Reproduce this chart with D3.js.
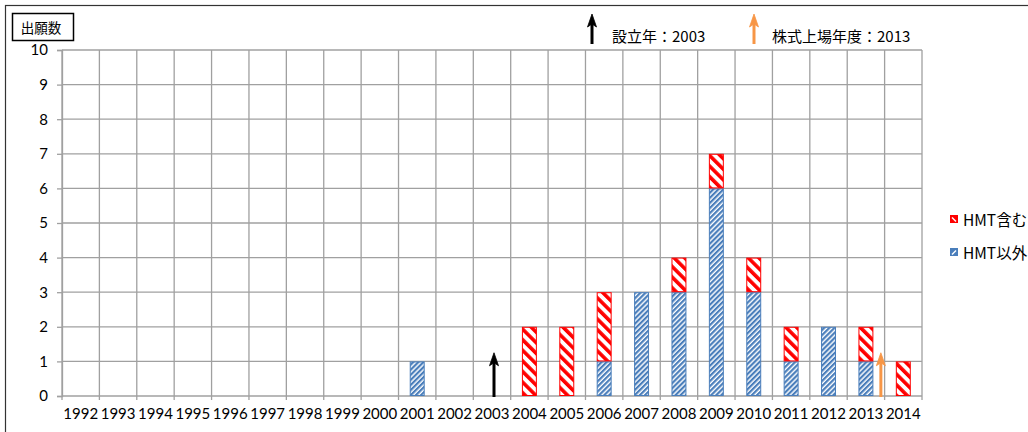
<!DOCTYPE html>
<html>
<head>
<meta charset="utf-8">
<script src="https://cdn.jsdelivr.net/npm/d3@7"></script>
<style>
  html, body { margin: 0; padding: 0; background: #fff; overflow: hidden; }
  svg { display: block; }
</style>
</head>
<body>
<svg id="chart" width="1028" height="432"></svg>
<script>
// Patent applications per year, split by whether HMT is included
const years = ["1992","1993","1994","1995","1996","1997","1998","1999","2000","2001","2002","2003",
               "2004","2005","2006","2007","2008","2009","2010","2011","2012","2013","2014"];
const hmtOther   = [0,0,0,0,0,0,0,0,0,1,0,0,0,0,1,3,3,6,3,1,2,1,0];   // HMT以外
const hmtIncl    = [0,0,0,0,0,0,0,0,0,0,0,0,2,2,2,0,1,1,1,1,0,1,1];   // HMT含む
const yTicks     = [0,1,2,3,4,5,6,7,8,9,10];
const seriesNames = ["HMT含む", "HMT以外"];
const foundedYear = "2003";
const listedYear  = "2013";
const yTitle = "出願数";
const foundedLabel = "設立年：2003";
const listedLabel  = "株式上場年度：2013";

const svg = d3.select("#chart");
const latin = "Lato, 'Open Sans', sans-serif";
const cjk = "'Noto Sans CJK JP', 'Noto Sans', sans-serif";

const plot = { left: 62, right: 922, top: 50, bottom: 396 };

const x = d3.scaleBand().domain(years)
  .range([plot.left, plot.right]).paddingInner(0.6).paddingOuter(0.3);
const xEdge = d3.scaleLinear().domain([0, years.length]).range([plot.left, plot.right]);
const y = d3.scaleLinear().domain([0, 10]).range([plot.bottom, plot.top]);

// hatch patterns
const defs = svg.append("defs");
const red = defs.append("pattern").attr("id", "hatchRed")
  .attr("patternUnits", "userSpaceOnUse").attr("width", 7.5).attr("height", 7.5)
  .attr("patternTransform", "rotate(-45)");
red.append("rect").attr("width", 7.5).attr("height", 7.5).attr("fill", "#fff");
red.append("rect").attr("width", 3.6).attr("height", 7.5).attr("fill", "#ff0000");

const blue = defs.append("pattern").attr("id", "hatchBlue")
  .attr("patternUnits", "userSpaceOnUse").attr("width", 3.6).attr("height", 3.6)
  .attr("patternTransform", "rotate(45)");
blue.append("rect").attr("width", 3.6).attr("height", 3.6).attr("fill", "#fff");
blue.append("rect").attr("width", 2.2).attr("height", 3.6).attr("fill", "#4a7ebb");

// vertical arrow: shaft from yBase up to the tip, with a narrow head
function upArrow(g, cx, yBase, yTip, color) {
  g.append("line").attr("x1", cx).attr("x2", cx).attr("y1", yBase).attr("y2", yTip + 8)
    .attr("stroke", color).attr("stroke-width", 3);
  g.append("path")
    .attr("d", `M${cx},${yTip} L${cx + 4.5},${yTip + 13} L${cx},${yTip + 10} L${cx - 4.5},${yTip + 13} Z`)
    .attr("fill", color).attr("stroke", color).attr("stroke-width", 0.8).attr("stroke-linejoin", "round");
}

// outer frame
svg.append("rect").attr("x", 5.5).attr("y", 5.5).attr("width", 1100).attr("height", 500)
  .attr("fill", "none").attr("stroke", "#333").attr("stroke-width", 1.2);

// gridlines
const grid = svg.append("g").attr("stroke", "#a0a0a0").attr("stroke-width", 1.3);
grid.selectAll("line.h").data(yTicks).join("line")
  .attr("x1", plot.left).attr("x2", plot.right)
  .attr("y1", d => y(d)).attr("y2", d => y(d));
grid.selectAll("line.v").data(d3.range(years.length + 1)).join("line")
  .attr("x1", d => xEdge(d)).attr("x2", d => xEdge(d))
  .attr("y1", plot.top).attr("y2", plot.bottom + 4);

// y axis
const yAxis = svg.append("g").attr("transform", `translate(${plot.left},0)`)
  .call(d3.axisLeft(y).tickValues(yTicks).tickSize(5).tickPadding(9));
yAxis.select(".domain").attr("stroke", "#a0a0a0").attr("stroke-width", 1.3);
yAxis.selectAll(".tick line").attr("stroke", "#a0a0a0").attr("stroke-width", 1.3);
yAxis.selectAll("text").attr("font-family", latin).attr("font-size", 15).attr("fill", "#000");

// x axis labels
const xAxis = svg.append("g").attr("transform", `translate(0,${plot.bottom})`)
  .call(d3.axisBottom(x).tickSize(0).tickPadding(12));
xAxis.select(".domain").remove();
xAxis.selectAll("text").attr("font-family", latin).attr("font-size", 15).attr("fill", "#000");

// stacked bars
const rows = years.map((yr, i) => ({ year: yr, other: hmtOther[i], incl: hmtIncl[i] }));
const stack = d3.stack().keys(["other", "incl"])(rows);
const fills = { other: "url(#hatchBlue)", incl: "url(#hatchRed)" };
const strokes = { other: "#4a7ebb", incl: "#ff0000" };
svg.append("g").selectAll("g").data(stack).join("g")
  .each(function (layer) {
    d3.select(this).selectAll("rect")
      .data(layer.filter(d => d[1] - d[0] > 0))
      .join("rect")
      .attr("x", d => x(d.data.year) + 0.5)
      .attr("width", x.bandwidth() - 1)
      .attr("y", d => y(d[1]) + 0.5)
      .attr("height", d => y(d[0]) - y(d[1]) - 1)
      .attr("fill", fills[layer.key])
      .attr("stroke", strokes[layer.key])
      .attr("stroke-width", 1);
  });

// year markers inside the plot
const marks = svg.append("g");
upArrow(marks, x(foundedYear) + x.bandwidth() / 2 + 2, plot.bottom + 1, y(1.25), "#000");
upArrow(marks, x(listedYear) + x.step() * 0.6, plot.bottom + 1, y(1.25), "#f79646");

// y title box
svg.append("rect").attr("x", 12.5).attr("y", 13.5).attr("width", 61).attr("height", 27)
  .attr("fill", "#fff").attr("stroke", "#000").attr("stroke-width", 1.5);
svg.append("text").attr("x", 41).attr("y", 27).attr("text-anchor", "middle")
  .attr("dominant-baseline", "central").attr("font-family", cjk).attr("font-size", 13.5)
  .text(yTitle);

// top annotation legend
const topLegend = [
  { x: 592, color: "#000", label: foundedLabel, tx: 612 },
  { x: 754, color: "#f79646", label: listedLabel, tx: 772 }
];
const tl = svg.append("g");
topLegend.forEach(d => {
  upArrow(tl, d.x, 44, 14, d.color);
  tl.append("text").attr("x", d.tx).attr("y", 35).attr("dominant-baseline", "central")
    .attr("font-family", cjk).attr("font-size", 15).attr("fill", "#000").text(d.label);
});

// series legend
const legendItems = [
  { name: seriesNames[0], stroke: "#ff0000", cy: 219, flip: false },
  { name: seriesNames[1], stroke: "#4a7ebb", cy: 252, flip: true }
];
const lg = svg.append("g");
legendItems.forEach(d => {
  lg.append("rect").attr("x", 950.5).attr("y", d.cy - 3.5).attr("width", 7).attr("height", 7)
    .attr("fill", d.stroke).attr("stroke", d.stroke);
  lg.append("path")
    .attr("d", d.flip ? `M${952},${d.cy + 2.5} L${956},${d.cy - 1.5}` : `M${952},${d.cy - 1.5} L${956},${d.cy + 2.5}`)
    .attr("stroke", "#fff").attr("stroke-width", 1.5);
  lg.append("text").attr("x", 963).attr("y", d.cy).attr("dominant-baseline", "central")
    .attr("font-family", cjk).attr("font-size", 15.5).attr("fill", "#000").text(d.name);
});
</script>
</body>
</html>
